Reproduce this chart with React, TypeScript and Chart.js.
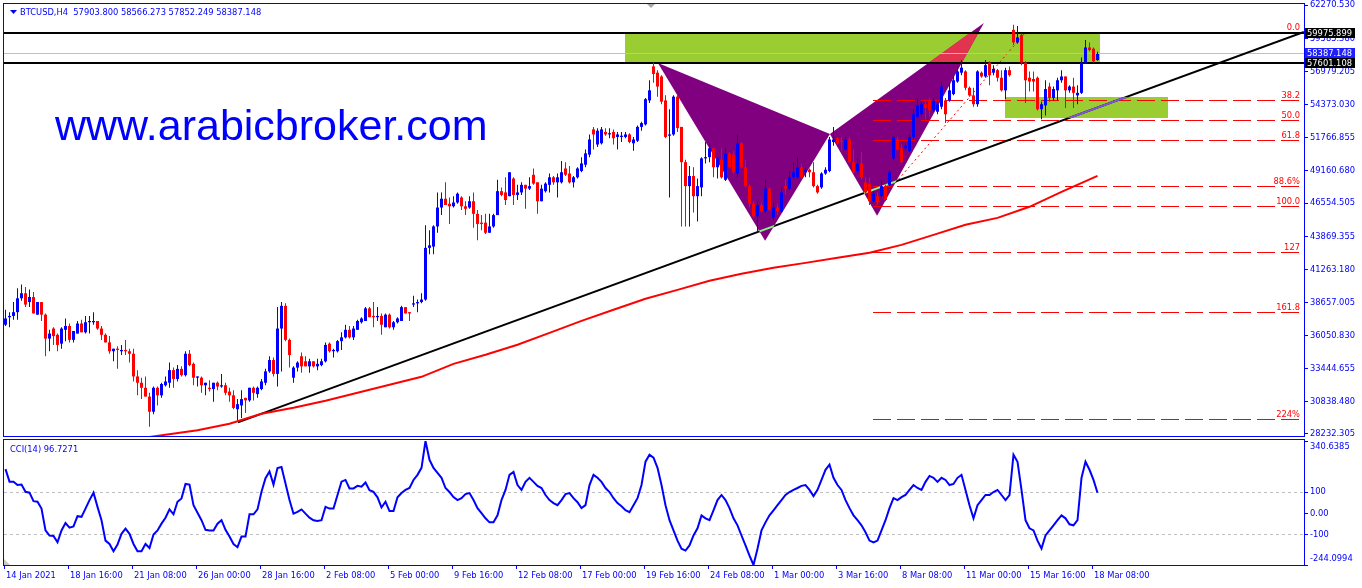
import React, { useEffect, useRef } from "react";
import { Chart, registerables } from "chart.js";

Chart.register(...registerables);

// ---------- text ----------
const SYMBOL = "BTCUSD,H4";
const LAST_OHLC = [57903.8, 58566.273, 57852.249, 58387.148];
const WATERMARK = "www.arabicbroker.com";
const CCI_NAME = "CCI(14)";
const CCI_LAST = 96.7271;

// ---------- candles (thousands of USD), bar 0 = 14 Jan 2021 00:00, H4 ----------
const PRICE_UNIT = 1000;
const OPEN = [
  36.9, 37.5, 37.6, 37.9, 39.0, 39.4, 38.7, 39.1, 37.7, 38.7,
  37.7, 35.8, 36.6, 36.1, 35.4, 36.5, 36.8, 35.7, 36.2, 37.0,
  36.3, 37.1, 37.1, 37.2, 36.6, 36.1, 35.5, 34.8, 35.0, 34.8,
  34.9, 34.8, 34.6, 32.8, 32.3, 31.9, 31.2, 30.0, 31.9, 31.3,
  32.1, 32.3, 33.3, 32.6, 33.4, 32.9, 34.6, 33.8, 32.7, 32.7,
  32.1, 31.9, 31.8, 32.3, 32.0, 32.1, 31.6, 31.3, 30.2, 30.5,
  31.1, 30.9, 31.9, 31.4, 31.8, 32.3, 33.2, 34.1, 33.0, 36.6,
  38.4, 35.7, 32.7, 33.5, 34.4, 34.0, 33.6, 34.0, 33.6, 33.7,
  34.0, 35.4, 34.8, 34.8, 35.6, 35.9, 36.5, 35.9, 36.5, 37.1,
  37.2, 38.2, 37.6, 37.5, 37.6, 36.7, 37.7, 36.7, 37.1, 37.2,
  38.3, 37.9, 38.5, 38.6, 38.7, 38.9, 43.0, 43.1, 44.7, 46.2,
  46.9, 46.5, 46.3, 46.6, 47.0, 46.3, 46.2, 46.7, 45.7, 45.0,
  45.0, 44.2, 44.7, 45.6, 47.5, 47.4, 47.1, 48.5, 47.2, 47.4,
  48.0, 47.7, 48.8, 48.2, 46.7, 47.5, 48.0, 48.6, 48.2, 48.2,
  49.3, 48.9, 48.2, 48.6, 49.1, 49.6, 50.4, 52.4, 51.2, 51.3,
  52.2, 52.0, 52.2, 51.8, 51.8, 51.8, 52.0, 51.3, 51.5, 52.6,
  52.8, 54.7, 57.4, 56.9, 56.6, 54.7, 51.9, 52.0, 55.0, 52.6,
  49.8, 47.9, 48.7, 47.1, 47.8, 50.1, 50.2, 50.9, 49.4, 50.0,
  48.4, 50.5, 50.4, 48.9, 51.3, 49.4, 47.9, 46.5, 45.5, 46.4,
  45.9, 47.7, 45.4, 46.2, 45.9, 47.9, 47.7, 48.6, 48.6, 49.4,
  49.0, 49.2, 49.0, 47.9, 47.8, 48.9, 49.1, 51.4, 51.7, 51.5,
  50.8, 51.6, 49.8, 49.1, 49.7, 48.2, 48.1, 46.7, 47.1, 47.1,
  47.9, 48.0, 50.1, 51.6, 50.9, 50.9, 50.7, 51.8, 53.4, 53.6,
  54.4, 54.7, 53.9, 53.8, 54.2, 54.7, 54.7, 55.2, 56.2, 56.9,
  57.0, 55.7, 55.1, 54.4, 56.9, 56.6, 57.7, 56.9, 57.1, 56.5,
  55.5, 57.1, 60.3, 59.3, 59.9, 57.7, 56.5, 56.4, 56.5, 54.0,
  54.3, 55.8, 54.9, 55.5, 56.3, 56.6, 55.5, 55.8, 55.1, 55.3,
  57.7, 58.9, 58.8, 57.9038,
];
const HIGH = [
  38.1, 37.9, 38.7, 39.8, 40.1, 39.9, 39.7, 39.5, 38.7, 38.7,
  37.8, 36.5, 36.7, 36.2, 36.7, 37.4, 37.0, 36.4, 37.2, 37.3,
  37.6, 37.6, 37.9, 37.2, 36.8, 36.2, 36.0, 35.0, 35.2, 35.3,
  35.7, 35.0, 35.0, 33.3, 32.7, 32.8, 31.5, 32.0, 32.0, 32.3,
  32.8, 33.9, 33.5, 33.7, 33.6, 34.8, 34.9, 33.9, 32.8, 32.8,
  32.3, 32.5, 32.3, 32.4, 33.0, 32.3, 31.9, 31.7, 31.0, 31.7,
  31.1, 31.9, 32.0, 32.0, 32.6, 33.4, 34.4, 34.3, 38.3, 38.7,
  38.6, 35.8, 33.6, 34.0, 34.7, 34.4, 34.2, 34.0, 34.2, 34.2,
  35.5, 35.5, 35.0, 35.7, 36.3, 36.9, 36.8, 36.8, 37.3, 37.5,
  38.3, 38.3, 38.7, 38.3, 37.8, 37.8, 37.8, 37.2, 37.5, 38.4,
  38.3, 37.9, 39.2, 38.9, 39.4, 44.8, 44.4, 44.8, 47.4, 47.4,
  48.2, 47.0, 47.1, 47.4, 47.1, 46.7, 47.1, 47.4, 46.0, 45.6,
  45.7, 45.7, 45.7, 48.4, 47.8, 48.6, 49.0, 48.6, 48.0, 48.2,
  48.0, 48.6, 49.3, 48.2, 48.0, 48.2, 48.9, 48.7, 48.9, 49.9,
  49.8, 49.5, 48.7, 49.4, 50.2, 50.8, 52.0, 52.6, 52.5, 52.6,
  52.5, 52.5, 52.4, 52.2, 52.2, 52.2, 52.1, 51.8, 52.7, 53.0,
  54.9, 56.3, 57.7, 57.1, 56.7, 55.1, 54.0, 55.1, 55.1, 52.6,
  50.0, 49.5, 49.4, 48.5, 50.2, 51.4, 51.3, 50.9, 50.2, 50.9,
  50.9, 50.6, 50.7, 52.0, 51.4, 50.0, 48.0, 46.7, 46.7, 46.6,
  48.4, 47.8, 46.6, 46.5, 47.8, 48.4, 49.1, 49.8, 50.2, 49.7,
  49.4, 49.3, 49.8, 48.0, 49.0, 49.4, 51.8, 52.6, 51.8, 51.8,
  51.8, 51.8, 50.8, 50.1, 50.6, 48.6, 48.6, 47.5, 47.4, 48.4,
  48.0, 49.2, 51.9, 51.8, 51.2, 51.3, 52.0, 54.0, 54.9, 54.6,
  54.7, 54.9, 54.9, 54.7, 56.2, 54.9, 56.1, 56.6, 57.4, 57.9,
  57.1, 55.8, 55.7, 57.1, 57.0, 57.9, 57.8, 57.5, 57.2, 57.1,
  57.3, 57.4, 60.7, 60.6, 60.0, 57.8, 57.0, 57.0, 56.6, 54.6,
  56.3, 56.1, 55.8, 56.5, 57.1, 56.6, 55.9, 56.5, 55.9, 58.1,
  59.5, 59.3, 58.9, 58.5663,
];
const LOW = [
  36.8, 36.7, 37.3, 37.3, 38.8, 38.3, 38.3, 37.8, 37.7, 37.2,
  34.4, 34.8, 35.3, 34.8, 35.0, 35.6, 35.5, 35.5, 36.2, 36.3,
  36.2, 36.2, 36.9, 36.5, 35.7, 35.5, 34.6, 34.0, 33.4, 34.5,
  34.5, 33.9, 32.4, 31.3, 31.0, 31.2, 28.8, 29.8, 30.5, 31.1,
  32.0, 31.9, 31.9, 32.4, 32.8, 32.8, 33.6, 32.1, 32.0, 31.5,
  31.3, 31.6, 30.8, 31.7, 31.9, 31.3, 30.8, 30.2, 29.3, 29.5,
  29.9, 30.8, 30.9, 31.1, 31.7, 32.1, 33.1, 32.8, 32.0, 33.2,
  35.6, 33.5, 32.3, 33.2, 33.1, 33.6, 33.1, 33.5, 33.3, 33.6,
  33.9, 34.7, 34.3, 34.7, 34.9, 35.8, 35.8, 35.7, 36.5, 37.0,
  37.2, 37.5, 36.7, 37.2, 36.1, 36.7, 36.6, 36.5, 37.0, 37.2,
  37.8, 37.2, 38.3, 37.9, 38.6, 38.8, 42.5, 42.5, 44.2, 45.6,
  46.4, 44.9, 46.2, 46.5, 46.0, 45.6, 46.1, 44.6, 43.6, 44.4,
  44.1, 44.2, 44.6, 45.6, 47.1, 46.4, 47.1, 46.4, 46.8, 47.2,
  46.1, 47.6, 48.0, 45.7, 46.7, 47.4, 47.4, 48.0, 47.0, 48.1,
  48.7, 48.1, 47.8, 48.5, 49.0, 49.4, 50.2, 50.8, 51.0, 51.2,
  51.9, 51.7, 51.2, 50.8, 51.4, 51.7, 51.3, 50.7, 51.4, 52.3,
  52.7, 54.5, 56.1, 55.0, 54.4, 51.7, 47.0, 51.9, 52.2, 44.7,
  44.7, 44.7, 45.8, 45.1, 47.1, 49.7, 49.8, 48.6, 48.5, 48.5,
  48.3, 49.3, 48.9, 48.6, 49.3, 47.8, 46.2, 45.4, 44.2, 45.8,
  45.8, 45.9, 45.2, 45.6, 45.8, 47.2, 47.6, 48.5, 48.5, 48.5,
  48.6, 48.6, 47.8, 47.3, 47.7, 48.8, 49.0, 51.1, 51.2, 50.7,
  50.7, 49.7, 48.9, 49.0, 48.4, 47.3, 46.4, 46.6, 46.4, 47.0,
  46.7, 47.9, 50.0, 50.7, 49.7, 50.8, 50.6, 51.6, 53.3, 53.4,
  53.2, 53.4, 53.8, 53.6, 54.0, 52.9, 54.6, 55.1, 56.1, 56.7,
  55.5, 55.0, 54.2, 54.2, 56.5, 56.5, 55.9, 56.7, 56.2, 55.4,
  54.8, 56.6, 59.1, 59.2, 57.5, 54.5, 55.4, 55.4, 53.9, 53.2,
  53.5, 54.6, 54.7, 54.7, 56.1, 54.1, 55.3, 54.1, 54.4, 55.2,
  57.6, 58.6, 57.7, 57.8522,
];
const CLOSE = [
  37.4, 37.6, 37.9, 39.0, 39.4, 38.5, 39.1, 37.8, 38.7, 37.7,
  35.8, 36.2, 36.0, 35.3, 36.6, 36.8, 35.7, 36.4, 37.0, 36.3,
  37.1, 37.2, 37.2, 36.6, 36.1, 35.5, 34.8, 35.0, 34.9, 34.9,
  34.8, 34.6, 32.8, 32.3, 31.9, 31.2, 30.0, 31.9, 31.3, 32.2,
  32.4, 33.3, 32.6, 33.4, 32.9, 34.6, 33.7, 32.7, 32.8, 32.1,
  32.3, 31.8, 32.3, 32.0, 32.1, 31.5, 31.3, 30.3, 30.6, 31.0,
  30.9, 31.9, 31.5, 31.9, 32.4, 33.2, 34.1, 33.0, 36.6, 38.4,
  35.7, 34.5, 33.5, 33.9, 33.6, 33.6, 34.0, 33.6, 33.8, 34.0,
  35.3, 34.8, 34.9, 35.6, 35.9, 36.5, 35.9, 36.6, 37.2, 37.4,
  38.2, 37.5, 37.5, 37.6, 36.9, 37.7, 36.7, 37.1, 37.4, 38.3,
  37.8, 37.8, 38.6, 38.7, 38.9, 43.0, 43.2, 44.7, 46.2, 46.9,
  46.4, 46.3, 46.6, 47.3, 46.3, 46.1, 46.7, 45.7, 44.9, 44.9,
  44.2, 44.7, 45.6, 47.5, 47.2, 46.8, 49.0, 47.2, 47.4, 48.0,
  47.7, 47.9, 48.1, 46.7, 47.7, 48.1, 48.6, 48.2, 48.6, 49.0,
  48.8, 48.2, 48.6, 49.3, 49.7, 50.5, 51.6, 52.0, 52.3, 52.4,
  52.0, 52.1, 51.7, 52.0, 51.9, 52.0, 51.4, 51.6, 52.6, 52.9,
  54.8, 55.5, 56.8, 55.8, 54.6, 51.8, 52.0, 55.0, 52.5, 49.8,
  47.9, 48.7, 47.1, 47.9, 50.1, 50.2, 50.9, 49.4, 50.1, 48.6,
  50.5, 49.4, 49.0, 51.3, 49.4, 47.9, 46.5, 45.5, 46.4, 45.9,
  47.7, 46.0, 46.2, 45.9, 47.4, 47.7, 48.6, 49.0, 49.4, 48.6,
  49.2, 49.0, 47.9, 47.4, 48.9, 49.2, 51.6, 51.6, 51.3, 51.4,
  51.6, 49.8, 49.0, 49.7, 48.6, 47.4, 46.7, 47.3, 46.6, 47.9,
  46.8, 49.0, 51.8, 50.8, 49.8, 51.1, 51.8, 53.6, 54.3, 54.4,
  54.1, 53.9, 54.7, 54.4, 55.8, 53.6, 55.5, 56.3, 57.0, 57.3,
  55.7, 55.1, 54.4, 57.0, 56.6, 57.5, 56.7, 57.2, 56.5, 55.5,
  57.1, 56.7, 59.3, 59.7, 57.7, 56.3, 56.2, 56.2, 54.0, 54.4,
  55.6, 54.9, 55.6, 56.3, 56.6, 55.5, 55.8, 55.3, 55.3, 57.7,
  58.9, 58.7, 57.8, 58.3871,
];

// ---------- moving average (thousands of USD) ----------
const MA_BARS = [35, 40, 48, 56, 64, 72, 80, 88, 96, 104, 112, 120, 128, 136, 144, 152, 160, 168, 176, 184, 192, 200, 208, 216, 224, 232, 240, 248, 256, 264, 273];
const MA_VALUES = [27.95, 28.17, 28.53, 29.05, 29.84, 30.32, 30.87, 31.51, 32.14, 32.77, 33.8, 34.52, 35.31, 36.26, 37.21, 38.09, 38.96, 39.67, 40.39, 40.94, 41.42, 41.81, 42.21, 42.61, 43.24, 44.03, 44.83, 45.38, 46.26, 47.44, 48.71];

// ---------- CCI(14) ----------
const CCI_VALUES = [
  208, 149, 149, 133, 135, 101, 97, 57, 54, 22,
  -81, -105, -107, -137, -81, -46, -68, -62, -14, -17,
  22, 62, 97, 30, -33, -129, -145, -179, -148, -97,
  -73, -97, -145, -179, -179, -145, -164, -100, -81, -49,
  -21, 18, -5, 54, 70, 138, 135, 38, 2, -33,
  -78, -81, -81, -49, -33, -78, -110, -145, -160, -110,
  -110, -5, -5, 18, 101, 165, 197, 135, 213, 218,
  140, 62, -2, 6, 18, -2, -21, -33, -37, -33,
  30, 22, 22, 86, 149, 157, 117, 117, 129, 125,
  145, 109, 101, 75, 27, 54, 10, 10, 75, 95,
  110, 119, 157, 181, 214, 340.6, 252, 214, 190, 167,
  119, 100, 76, 62, 71, 90, 95, 62, 24, 0,
  -24, -43, -43, -10, 62, 110, 181, 195, 133, 110,
  148, 167, 148, 129, 119, 86, 62, 48, 38, 62,
  90, 95, 71, 52, 24, 38, 133, 181, 167, 148,
  119, 100, 71, 48, 33, 14, 5, 38, 71, 133,
  243, 276, 262, 214, 133, 38, -33, -81, -129, -167,
  -176, -152, -105, -71, -10, -24, -33, 14, 62, 86,
  62, 24, -24, -57, -105, -152, -200, -244.1, -167, -81,
  -43, -10, 14, 38, 62, 86, 100, 110, 119, 129,
  133, 110, 81, 110, 157, 205, 229, 167, 133, 110,
  62, 24, -10, -33, -57, -90, -129, -138, -129, -81,
  -33, 24, 71, 62, 76, 86, 110, 133, 119, 110,
  148, 176, 167, 148, 167, 157, 133, 138, 167, 181,
  110, 38, -24, 38, 62, 86, 86, 100, 110, 86,
  62, 86, 276, 243, 110, -33, -71, -81, -129, -167,
  -105, -81, -57, -33, -10, -24, -52, -57, -33, 167,
  243, 205, 157, 96.7271,
];

// ---------- axes ----------
const TIME_LABELS = ["14 Jan 2021", "18 Jan 16:00", "21 Jan 08:00", "26 Jan 00:00", "28 Jan 16:00", "2 Feb 08:00", "5 Feb 00:00", "9 Feb 16:00", "12 Feb 08:00", "17 Feb 00:00", "19 Feb 16:00", "24 Feb 08:00", "1 Mar 00:00", "3 Mar 16:00", "8 Mar 08:00", "11 Mar 00:00", "15 Mar 16:00", "18 Mar 08:00"];
const BARS_PER_TIME_LABEL = 16;
const PRICE_TICKS = [62270.53, 59585.38, 56979.205, 54373.03, 51766.855, 49160.68, 46554.505, 43869.355, 41263.18, 38657.005, 36050.83, 33444.655, 30838.48, 28232.305];
const CCI_TICKS = [340.6385, 100, 0, -100, -244.0994];
const CCI_LEVELS = [100, -100];

// ---------- drawn objects ----------
const RESISTANCE = 59975.899;
const SUPPORT = 57601.108;
const BID = 58387.148;
const FIB_LEVELS = [0, 38.2, 50, 61.8, 88.6, 100, 127, 161.8, 224];
const FIB_TEXT = ["0.0", "38.2", "50.0", "61.8", "88.6%", "100.0", "127", "161.8", "224%"];
const FIB_ZERO = 59975.9;
const FIB_HUNDRED = 46330;
const FIB_FROM_BAR = 216.9;
const FIB_ANCHOR_BARS = [217.5, 255.1];
const FIB_ANCHOR_PRICES = [46330, 60130];
const TREND_BARS = [58.1, 324.6];
const TREND_PRICES = [29150, 60130];
const PATTERN_BARS = [163.1, 189.9, 206.1, 217.9, 244.6]; // X A B C D
const PATTERN_PRICES = [57670, 43560, 52040, 45540, 60850];
const ZONE_HIGH_BARS = [154.9, 273.6];
const ZONE_LOW_BARS = [249.9, 290.6];
const ZONE_LOW_PRICES = [53310, 54980];

// ---------- ranges / styles ----------
const X_MIN = -0.375;
const X_MAX = 324.625;
const Y_MIN = 28073.6;
const Y_MAX = 62349.9;
const CCI_MIN = -244.0994;
const CCI_MAX = 340.6385;
const AXIS_WIDTH = 58;

const BLUE = "#0000ff";
const BULL = "#0000ff";
const BEAR = "#ff0000";
const MA_RED = "#ff0000";
const FIB_RED = "#ff0000";
const ZONE_GREEN = "#9acd32";
const PURPLE = "#800080";
const OVERLAP = "#e2344f";
const TREND_IN_PATTERN = "#90ee90";
const TREND_IN_ZONE = "#8055e8";
const BID_GRAY = "#c0c0c0";
const BID_BOX = "#1e1eff";
const FONT_FAMILY = '"DejaVu Sans Condensed", "Liberation Sans", sans-serif';
const FONT_SIZE = 9.25;
const AXIS_FONT = `${FONT_SIZE}px ${FONT_FAMILY}`;

const idx = OPEN.map((_, i) => i);
const candleColors = idx.map((i) => (CLOSE[i] >= OPEN[i] ? BULL : BEAR));

const mainDecor = {
  id: "mainDecor",
  beforeDatasetsDraw(chart: any) {
    const { ctx, chartArea: a, scales } = chart;
    const X = (b: number) => scales.x.getPixelForValue(b);
    const Y = (p: number) => scales.y.getPixelForValue(p);
    ctx.save();
    ctx.beginPath();
    ctx.rect(a.left, a.top, a.right - a.left, a.bottom - a.top);
    ctx.clip();

    const z1 = [Math.round(X(ZONE_HIGH_BARS[0])), Math.round(Y(RESISTANCE)) - 1, Math.round(X(ZONE_HIGH_BARS[1])), Math.round(Y(SUPPORT)) - 1];
    const z2 = [Math.round(X(ZONE_LOW_BARS[0])), Math.round(Y(ZONE_LOW_PRICES[1])), Math.round(X(ZONE_LOW_BARS[1])), Math.round(Y(ZONE_LOW_PRICES[0]))];
    ctx.fillStyle = ZONE_GREEN;
    ctx.fillRect(z1[0], z1[1], z1[2] - z1[0], z1[3] - z1[1]);
    ctx.fillRect(z2[0], z2[1], z2[2] - z2[0], z2[3] - z2[1]);

    const P = PATTERN_BARS.map((b, k) => [X(b), Y(PATTERN_PRICES[k])]);
    const triPath = (i: number) => {
      ctx.moveTo(P[i][0], P[i][1]);
      ctx.lineTo(P[i + 1][0], P[i + 1][1]);
      ctx.lineTo(P[i + 2][0], P[i + 2][1]);
      ctx.closePath();
    };
    ctx.fillStyle = PURPLE;
    ctx.beginPath(); triPath(0); ctx.fill();
    ctx.beginPath(); triPath(2); ctx.fill();
    ctx.save();
    ctx.beginPath();
    ctx.rect(z1[0], z1[1], z1[2] - z1[0], z1[3] - z1[1]);
    ctx.clip();
    ctx.fillStyle = OVERLAP;
    ctx.beginPath(); triPath(0); ctx.fill();
    ctx.beginPath(); triPath(2); ctx.fill();
    ctx.restore();

    // fibonacci levels (dashed red); level 0 sits under the black resistance line
    const fx = Math.round(X(FIB_FROM_BAR));
    const fibY = FIB_LEVELS.map((lv) => Math.round(Y(FIB_ZERO - ((FIB_ZERO - FIB_HUNDRED) * lv) / 100)) + (lv === 0 ? -1.5 : 0.5));
    ctx.strokeStyle = FIB_RED;
    ctx.lineWidth = 1;
    ctx.setLineDash([18, 6]);
    fibY.forEach((y) => {
      ctx.beginPath();
      ctx.moveTo(fx, y);
      ctx.lineTo(a.right, y);
      ctx.stroke();
    });
    ctx.setLineDash([2, 3]);
    ctx.beginPath();
    ctx.moveTo(X(FIB_ANCHOR_BARS[0]), Y(FIB_ANCHOR_PRICES[0]));
    ctx.lineTo(X(FIB_ANCHOR_BARS[1]), Y(FIB_ANCHOR_PRICES[1]));
    ctx.stroke();
    ctx.setLineDash([]);
    ctx.font = AXIS_FONT;
    ctx.fillStyle = FIB_RED;
    ctx.textAlign = "right";
    ctx.textBaseline = "alphabetic";
    fibY.forEach((y, k) => ctx.fillText(FIB_TEXT[k], a.right - 4, y - 3));

    // horizontal levels
    ctx.strokeStyle = BID_GRAY;
    ctx.lineWidth = 1;
    const by = Math.round(Y(BID)) - 0.5;
    ctx.beginPath(); ctx.moveTo(a.left, by); ctx.lineTo(a.right, by); ctx.stroke();
    ctx.strokeStyle = "#000";
    ctx.lineWidth = 2;
    [RESISTANCE, SUPPORT].forEach((v) => {
      const y = Math.round(Y(v)) - 1;
      ctx.beginPath(); ctx.moveTo(a.left, y); ctx.lineTo(a.right, y); ctx.stroke();
    });

    // trend line
    const trend = (color: string) => {
      ctx.strokeStyle = color;
      ctx.lineWidth = 2;
      ctx.beginPath();
      ctx.moveTo(X(TREND_BARS[0]), Y(TREND_PRICES[0]));
      ctx.lineTo(X(TREND_BARS[1]), Y(TREND_PRICES[1]));
      ctx.stroke();
    };
    trend("#000");
    ctx.save();
    ctx.beginPath(); triPath(0); triPath(2);
    ctx.clip();
    trend(TREND_IN_PATTERN);
    ctx.restore();
    ctx.save();
    ctx.beginPath();
    ctx.rect(z2[0], z2[1], z2[2] - z2[0], z2[3] - z2[1]);
    ctx.clip();
    trend(TREND_IN_ZONE);
    ctx.restore();
    ctx.restore();
  },
  afterDraw(chart: any) {
    const { ctx, chartArea: a, scales } = chart;
    const Y = (p: number) => scales.y.getPixelForValue(p);
    ctx.save();
    ctx.strokeStyle = BLUE;
    ctx.lineWidth = 1;
    ctx.strokeRect(a.left - 0.5, a.top - 0.5, a.right - a.left + 1, a.bottom - a.top + 1);

    // chart shift marker
    ctx.fillStyle = "#a8a8a8";
    ctx.beginPath();
    ctx.moveTo(a.left + 643, a.top);
    ctx.lineTo(a.left + 651, a.top);
    ctx.lineTo(a.left + 647, a.top + 4);
    ctx.closePath();
    ctx.fill();

    // title
    ctx.fillStyle = BLUE;
    ctx.beginPath();
    ctx.moveTo(10, 10); ctx.lineTo(17, 10); ctx.lineTo(13.5, 14); ctx.closePath();
    ctx.fill();
    ctx.font = AXIS_FONT;
    ctx.textAlign = "left";
    ctx.textBaseline = "alphabetic";
    ctx.fillText(`${SYMBOL}  ${LAST_OHLC.map((v) => v.toFixed(3)).join(" ")}`, 20, 15);

    // watermark
    ctx.font = '43px "Liberation Sans", Arial, sans-serif';
    ctx.fillText(WATERMARK, 55, 140);

    // price boxes on axis
    const box = (price: number, bg: string) => {
      const y = Math.round(Y(price)) - 1;
      ctx.fillStyle = bg;
      ctx.fillRect(a.right + 1, y - 5, 50, 10);
      ctx.fillStyle = "#fff";
      ctx.font = AXIS_FONT;
      ctx.textBaseline = "middle";
      ctx.fillText(price.toFixed(3), a.right + 3, y + 0.5);
    };
    box(BID, BID_BOX);
    box(RESISTANCE, "#000");
    box(SUPPORT, "#000");
    ctx.restore();
  },
};

const cciDecor = {
  id: "cciDecor",
  beforeDatasetsDraw(chart: any) {
    const { ctx, chartArea: a, scales } = chart;
    ctx.save();
    ctx.strokeStyle = BID_GRAY;
    ctx.lineWidth = 1;
    ctx.setLineDash([3, 3]);
    CCI_LEVELS.forEach((v) => {
      const y = Math.round(scales.y.getPixelForValue(v)) + 0.5;
      ctx.beginPath(); ctx.moveTo(a.left, y); ctx.lineTo(a.right, y); ctx.stroke();
    });
    ctx.restore();
  },
  afterDraw(chart: any) {
    const { ctx, chartArea: a, scales } = chart;
    ctx.save();
    ctx.strokeStyle = BLUE;
    ctx.lineWidth = 1;
    ctx.strokeRect(a.left - 0.5, a.top - 1.5, a.right - a.left + 1, a.bottom - a.top + 2);

    // corner marker
    ctx.fillStyle = "#c8c8c8";
    ctx.beginPath();
    ctx.moveTo(a.left, a.bottom - 6); ctx.lineTo(a.left, a.bottom); ctx.lineTo(a.left + 6, a.bottom); ctx.closePath();
    ctx.fill();

    ctx.font = AXIS_FONT;
    ctx.fillStyle = BLUE;
    ctx.textAlign = "left";
    ctx.textBaseline = "alphabetic";
    ctx.fillText(`${CCI_NAME} ${CCI_LAST.toFixed(4)}`, 10, a.top + 10.5);

    // extreme scale labels
    ctx.textBaseline = "middle";
    ctx.fillText(CCI_MAX.toFixed(4), a.right + 6, scales.y.getPixelForValue(CCI_MAX) + 6);
    ctx.fillText(CCI_MIN.toFixed(4), a.right + 6, scales.y.getPixelForValue(CCI_MIN) - 6);

    // time axis
    ctx.textBaseline = "alphabetic";
    ctx.strokeStyle = BLUE;
    TIME_LABELS.forEach((t, k) => {
      const x = Math.floor(scales.x.getPixelForValue(k * BARS_PER_TIME_LABEL)) - 0.5;
      ctx.beginPath(); ctx.moveTo(x, a.bottom); ctx.lineTo(x, a.bottom + 4); ctx.stroke();
      ctx.fillText(t, x + 1.5, a.bottom + 12.5);
    });
    ctx.restore();
  },
};

export default function App() {
  const mainRef = useRef<HTMLCanvasElement>(null);
  const cciRef = useRef<HTMLCanvasElement>(null);

  useEffect(() => {
    const tickFont = { family: FONT_FAMILY, size: FONT_SIZE, lineHeight: 1 };
    const main = new Chart(mainRef.current as HTMLCanvasElement, {
      type: "bar",
      data: {
        datasets: [
          {
            type: "bar",
            label: "wicks",
            data: idx.map((i) => ({ x: i, y: [LOW[i] * PRICE_UNIT, HIGH[i] * PRICE_UNIT] })) as any,
            backgroundColor: candleColors,
            barThickness: 1,
            grouped: false,
            inflateAmount: 0,
            borderWidth: 0,
            order: 3,
          } as any,
          {
            type: "bar",
            label: "bodies",
            data: idx.map((i) => ({ x: i, y: [Math.min(OPEN[i], CLOSE[i]) * PRICE_UNIT, Math.max(OPEN[i], CLOSE[i]) * PRICE_UNIT] })) as any,
            backgroundColor: candleColors,
            barThickness: 3,
            minBarLength: 1,
            grouped: false,
            inflateAmount: 0,
            borderWidth: 0,
            order: 2,
          } as any,
          {
            type: "line",
            label: "MA",
            data: MA_BARS.map((b, k) => ({ x: b, y: MA_VALUES[k] * PRICE_UNIT })),
            borderColor: MA_RED,
            borderWidth: 2,
            pointRadius: 0,
            tension: 0,
            order: 1,
          } as any,
        ],
      },
      options: {
        responsive: false,
        animation: false,
        devicePixelRatio: 1,
        events: [],
        layout: { padding: { left: 4, top: 4, right: 0, bottom: 2 } },
        scales: {
          x: { type: "linear", min: X_MIN, max: X_MAX, offset: false, display: false, grid: { offset: false } },
          y: {
            type: "linear",
            position: "right",
            min: Y_MIN,
            max: Y_MAX,
            beginAtZero: false,
            afterBuildTicks: (s: any) => { s.ticks = PRICE_TICKS.map((v) => ({ value: v })); },
            afterFit: (s: any) => { s.width = AXIS_WIDTH; s.paddingTop = 0; s.paddingBottom = 0; },
            ticks: { color: BLUE, font: tickFont, padding: 2, autoSkip: false, callback: (v: any) => Number(v).toFixed(3) },
            grid: { drawOnChartArea: false, drawTicks: true, tickLength: 4, color: BLUE },
            border: { display: true, color: BLUE },
          },
        },
        plugins: { legend: { display: false }, tooltip: { enabled: false } },
      } as any,
      plugins: [mainDecor],
    });

    const cci = new Chart(cciRef.current as HTMLCanvasElement, {
      type: "line",
      data: {
        datasets: [
          {
            label: CCI_NAME,
            data: CCI_VALUES.map((v, i) => ({ x: i, y: v })),
            borderColor: BLUE,
            borderWidth: 2,
            pointRadius: 0,
            tension: 0,
          },
        ],
      },
      options: {
        responsive: false,
        animation: false,
        devicePixelRatio: 1,
        events: [],
        layout: { padding: { left: 4, top: 3, right: 0, bottom: 23 } },
        scales: {
          x: { type: "linear", min: X_MIN, max: X_MAX, offset: false, display: false },
          y: {
            type: "linear",
            position: "right",
            min: CCI_MIN,
            max: CCI_MAX,
            afterBuildTicks: (s: any) => { s.ticks = CCI_TICKS.map((v) => ({ value: v })); },
            afterFit: (s: any) => { s.width = AXIS_WIDTH; s.paddingTop = 0; s.paddingBottom = 0; },
            ticks: {
              color: BLUE,
              font: tickFont,
              padding: 2,
              autoSkip: false,
              callback: (v: any) => (v === 0 ? "0.00" : v === 100 || v === -100 ? String(v) : ""),
            },
            grid: { drawOnChartArea: false, drawTicks: true, tickLength: 4, color: BLUE },
            border: { display: true, color: BLUE },
          },
        },
        plugins: { legend: { display: false }, tooltip: { enabled: false } },
      } as any,
      plugins: [cciDecor],
    });

    return () => {
      main.destroy();
      cci.destroy();
    };
  }, []);

  return (
    <div style={{ position: "absolute", left: 0, top: 0, width: 1362, height: 588, background: "#fff", overflow: "hidden" }}>
      <canvas ref={mainRef} width={1362} height={438} style={{ position: "absolute", left: 0, top: 0, width: 1362, height: 438 }} />
      <canvas ref={cciRef} width={1362} height={150} style={{ position: "absolute", left: 0, top: 438, width: 1362, height: 150 }} />
    </div>
  );
}
